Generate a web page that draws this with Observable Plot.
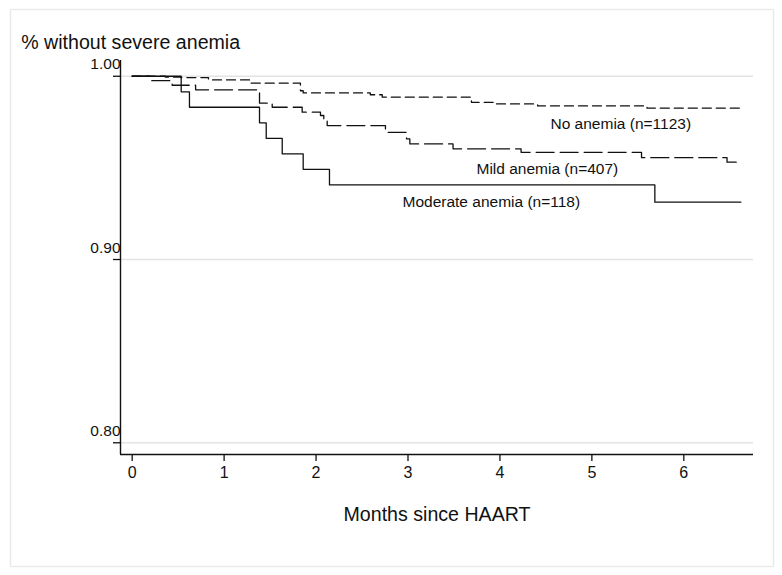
<!DOCTYPE html>
<html>
<head>
<meta charset="utf-8">
<script src="https://cdn.jsdelivr.net/npm/d3@7"></script>
<script src="https://cdn.jsdelivr.net/npm/@observablehq/plot@0.6"></script>
<style>
  html, body { margin: 0; padding: 0; background: #fff; }
  #chart svg { display: block; }
</style>
</head>
<body>
<div id="chart"></div>
<script>
// ---- data ----
const seriesNames = ["No anemia (n=1123)", "Mild anemia (n=407)", "Moderate anemia (n=118)"];

const noAnemiaMonths = [0, 0.36, 0.53, 0.83, 1.29, 1.83, 1.86, 2.59, 2.72, 3.69, 3.95, 4.41, 5.60, 6.62];
const noAnemiaSurv   = [1, 0.9996, 0.9993, 0.9980, 0.9962, 0.9921, 0.9909, 0.9899, 0.9886, 0.9858, 0.9849, 0.9838, 0.9826, 0.9826];

const mildMonths = [0, 0.20, 0.435, 0.69, 1.385, 1.523, 1.849, 2.048, 2.084, 2.121, 2.755, 2.984, 3.02, 3.49, 4.23, 5.54, 6.47, 6.62];
const mildSurv   = [1, 0.9976, 0.9951, 0.9926, 0.9853, 0.9831, 0.9804, 0.9786, 0.9758, 0.9731, 0.9694, 0.9658, 0.9631, 0.9604, 0.9585, 0.9556, 0.9531, 0.9531];

const moderateMonths = [0, 0.533, 0.623, 1.385, 1.458, 1.632, 1.860, 2.146, 5.685, 6.62];
const moderateSurv   = [1, 0.9915, 0.9831, 0.9746, 0.9661, 0.9576, 0.9492, 0.9407, 0.9313, 0.9313];

// label anchor positions (data units)
const labelMonths = [4.55, 3.745, 2.94];
const labelSurv   = [0.9713, 0.9468, 0.9285];

const xTicks = [0, 1, 2, 3, 4, 5, 6];
const yTicks = [0.80, 0.90, 1.00];
const xDomain = [-0.127, 6.758];
const yDomain = [0.7936, 1.0086];

const yTitle = "% without severe anemia";
const xTitle = "Months since HAART";

// ---- build tables ----
const toRows = (name, ts, ss) => ts.map((t, i) => ({series: name, t, s: ss[i]}));
const noRows = toRows(seriesNames[0], noAnemiaMonths, noAnemiaSurv);
const mildRows = toRows(seriesNames[1], mildMonths, mildSurv);
const modRows = toRows(seriesNames[2], moderateMonths, moderateSurv);
const labels = seriesNames.map((name, i) => ({name, t: labelMonths[i], s: labelSurv[i]}));

const font = "'Liberation Sans', Arial, Helvetica, sans-serif";
const ink = "#111";

const chart = Plot.plot({
  width: 782,
  height: 575,
  marginLeft: 120,
  marginRight: 29,
  marginTop: 60,
  marginBottom: 121,
  style: {fontFamily: font, background: "#fff", color: ink, overflow: "visible"},
  x: {domain: xDomain, axis: null},
  y: {domain: yDomain, axis: null},
  marks: [
    // outer graph-region border
    Plot.frame({stroke: "#ebebeb", strokeWidth: 1.5, insetLeft: -110, insetRight: -20, insetTop: -51, insetBottom: -112}),
    // gridlines
    Plot.ruleY(yTicks, {stroke: "#e3e3e3", strokeWidth: 1.5}),
    // axis lines
    Plot.ruleX([xDomain[0]], {stroke: ink, strokeWidth: 1.4}),
    Plot.ruleY([yDomain[0]], {stroke: ink, strokeWidth: 1.4}),
    // x axis ticks + labels
    Plot.axisX({ticks: xTicks, tickSize: 7, tickPadding: 5, fontSize: 16, label: null, tickFormat: d => String(d), strokeWidth: 1.3}),
    // y axis ticks
    Plot.axisY({ticks: yTicks, tickSize: 7, tickFormat: () => "", label: null, strokeWidth: 1.3}),
    // y tick labels above the ticks
    Plot.text(yTicks, {frameAnchor: "left", y: d => d, text: d => d.toFixed(2), textAnchor: "end", lineAnchor: "bottom", dx: 0, dy: -7, fontSize: 15.5, fill: ink}),
    // survival curves
    Plot.line(noRows, {x: "t", y: "s", curve: "step-after", stroke: ink, strokeWidth: 1.3, strokeDasharray: "9,5"}),
    Plot.line(mildRows, {x: "t", y: "s", curve: "step-after", stroke: ink, strokeWidth: 1.3, strokeDasharray: "18,6"}),
    Plot.line(modRows, {x: "t", y: "s", curve: "step-after", stroke: ink, strokeWidth: 1.3}),
    // curve labels
    Plot.text(labels, {x: "t", y: "s", text: "name", textAnchor: "start", lineAnchor: "bottom", fontSize: 15.5, fill: ink}),
    // axis titles
    Plot.text([xTitle], {frameAnchor: "bottom", dy: 66, lineAnchor: "bottom", fontSize: 19.6, fill: ink}),
    Plot.text([yTitle], {frameAnchor: "top-left", dx: -99.3, dy: -11.7, textAnchor: "start", lineAnchor: "bottom", fontSize: 19.6, fill: ink})
  ]
});

document.getElementById("chart").appendChild(chart);
</script>
</body>
</html>
